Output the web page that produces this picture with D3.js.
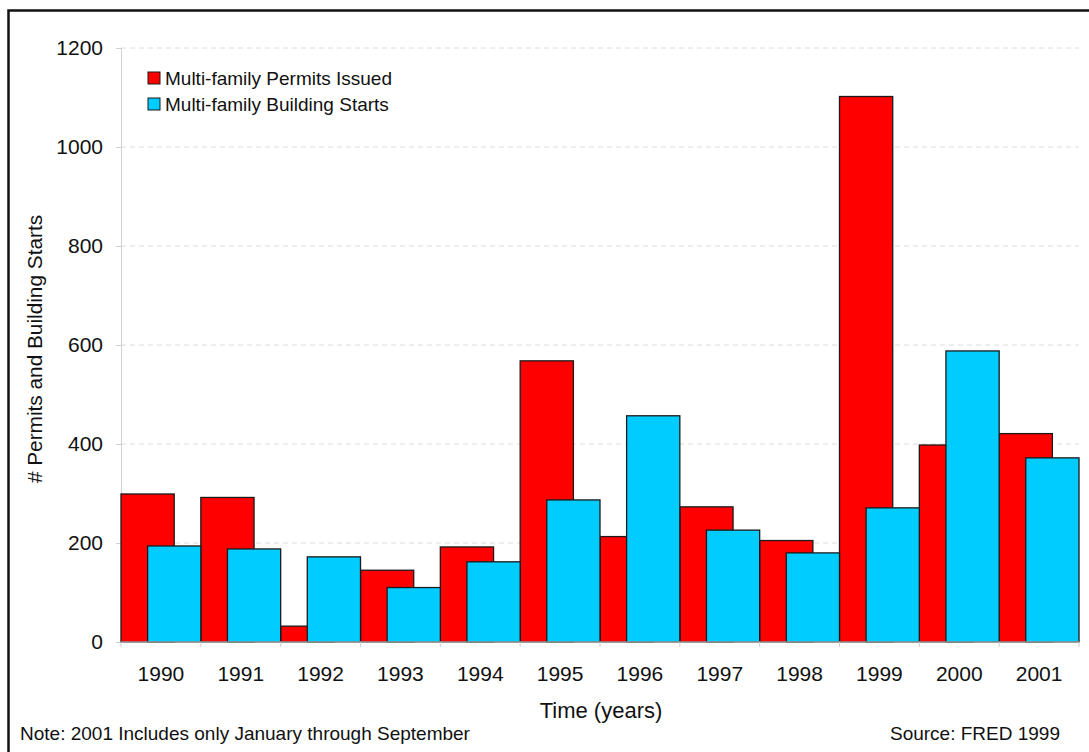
<!DOCTYPE html>
<html><head><meta charset="utf-8">
<script src="https://cdn.jsdelivr.net/npm/d3@7"></script>
<style>
html,body{margin:0;padding:0;background:#fff;}
svg{display:block;font-family:"Liberation Sans",Arial,sans-serif;}
</style></head>
<body>
<svg id="chart" width="1089" height="752"></svg>
<script>
const years = ["1990","1991","1992","1993","1994","1995","1996","1997","1998","1999","2000","2001"];
const permits = [299, 292, 32, 145, 192, 568, 213, 273, 205, 1102, 398, 421];
const starts = [194, 188, 172, 110, 162, 287, 457, 226, 180, 271, 588, 372];
const seriesNames = ["Multi-family Permits Issued", "Multi-family Building Starts"];
const yTicks = [0, 200, 400, 600, 800, 1000, 1200];
const colors = ["#ff0000", "#00ccff"];

const svg = d3.select("#chart");
const W = 1089, H = 752;
const L = 121, R = 1079, T = 48, B = 642;

// outer border
svg.append("rect").attr("x", 8.5).attr("y", 10.5).attr("width", W + 20).attr("height", H + 20)
  .attr("fill", "none").attr("stroke", "#111").attr("stroke-width", 2.5);

const x = d3.scaleBand().domain(years).range([L, R]).padding(0);
const y = d3.scaleLinear().domain([0, 1200]).range([B, T]);

// gridlines
svg.append("g").selectAll("line").data(yTicks.filter(d => d > 0)).join("line")
  .attr("x1", L).attr("x2", R).attr("y1", d => y(d)).attr("y2", d => y(d))
  .attr("stroke", "#dcdcdc").attr("stroke-width", 1).attr("stroke-dasharray", "5,4");

// y axis
const yAxis = d3.axisLeft(y).tickValues(yTicks).tickFormat(d3.format("d")).tickSize(5).tickPadding(13);
const gy = svg.append("g").attr("transform", `translate(${L},0)`).call(yAxis);
gy.select(".domain").attr("stroke", "#d0d0d0");
gy.selectAll(".tick line").attr("stroke", "#d0d0d0");
gy.selectAll(".tick text").attr("font-size", 21).attr("fill", "#111")
  .attr("font-family", "'Liberation Sans',Arial,sans-serif");

// bars
const bw = x.bandwidth();
const barW = bw * 2 / 3;
const gb = svg.append("g");
gb.selectAll("rect.p").data(years).join("rect").attr("class", "p")
  .attr("x", d => x(d)).attr("y", (d, i) => y(permits[i]))
  .attr("width", barW).attr("height", (d, i) => y(0) - y(permits[i]))
  .attr("fill", colors[0]).attr("stroke", "#1a1a1a").attr("stroke-width", 1.3);
gb.selectAll("rect.s").data(years).join("rect").attr("class", "s")
  .attr("x", d => x(d) + bw / 3).attr("y", (d, i) => y(starts[i]))
  .attr("width", barW).attr("height", (d, i) => y(0) - y(starts[i]))
  .attr("fill", colors[1]).attr("stroke", "#1a1a1a").attr("stroke-width", 1.3);

// x axis
const gx = svg.append("g").attr("transform", `translate(0,${B})`);
gx.append("line").attr("x1", L).attr("x2", R).attr("stroke", "#d0d0d0");
const bounds = years.map(d => x(d)).concat([R]);
gx.selectAll("line.t").data(bounds).join("line").attr("class", "t")
  .attr("x1", d => d).attr("x2", d => d).attr("y1", 0).attr("y2", 5).attr("stroke", "#d0d0d0");
gx.selectAll("text").data(years).join("text")
  .attr("x", d => x(d) + bw / 2).attr("y", 39).attr("text-anchor", "middle")
  .attr("font-size", 21).attr("fill", "#111").text(d => d);

// legend
const lg = svg.append("g").attr("transform", "translate(148,72)");
seriesNames.forEach((n, i) => {
  lg.append("rect").attr("x", 0).attr("y", i * 26).attr("width", 12).attr("height", 12)
    .attr("fill", colors[i]).attr("stroke", "#1a1a1a").attr("stroke-width", 1);
  lg.append("text").attr("x", 17).attr("y", i * 26 + 13).attr("font-size", 19)
    .attr("fill", "#111").text(n);
});

// axis titles
svg.append("text").attr("transform", "translate(42,349) rotate(-90)")
  .attr("text-anchor", "middle").attr("font-size", 20.8).attr("fill", "#111")
  .text("# Permits and Building Starts");
svg.append("text").attr("x", 601).attr("y", 718).attr("text-anchor", "middle")
  .attr("font-size", 22).attr("fill", "#111").text("Time (years)");

// notes
svg.append("text").attr("x", 20).attr("y", 740).attr("font-size", 19).attr("fill", "#111")
  .text("Note: 2001 Includes only January through September");
svg.append("text").attr("x", 1060).attr("y", 740).attr("text-anchor", "end")
  .attr("font-size", 19).attr("fill", "#111").text("Source: FRED 1999");
</script>
</body></html>
